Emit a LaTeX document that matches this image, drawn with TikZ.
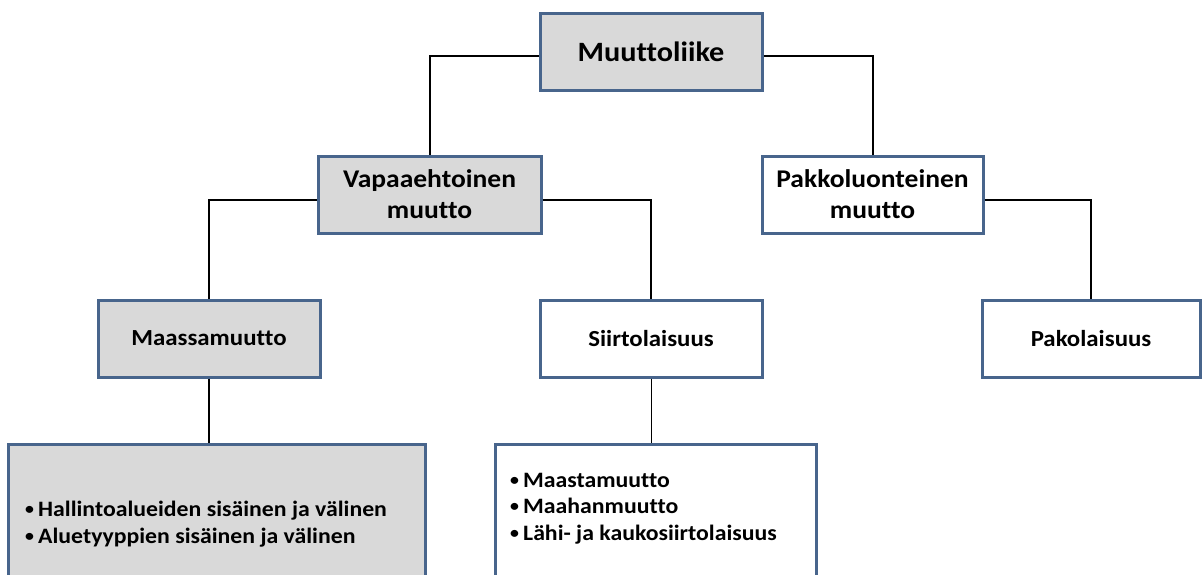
\documentclass[tikz,border=0pt]{standalone}
\usepackage{fontspec}
\setmainfont{Carlito}[Ligatures=NoCommon,FakeStretch=1.08]
\definecolor{boxedge}{RGB}{72,101,140}
\definecolor{boxfill}{RGB}{217,217,217}
\newcommand{\bul}{\makebox[13pt][l]{\raisebox{2pt}{\scalebox{0.75}{\textbullet}}}}
\begin{document}
\begin{tikzpicture}[x=1pt,y=-1pt,
  box/.style={draw=boxedge,line width=3pt,rectangle,minimum height=77pt,
    inner sep=0pt,align=center,font=\fontsize{23}{28}\selectfont\bfseries},
  grey/.style={box,fill=boxfill},
  white/.style={box,fill=white},
  lvltwo/.style={font=\fontsize{25.5}{31}\selectfont\bfseries},
  lvlone/.style={font=\fontsize{28}{31}\selectfont\bfseries},
  conn/.style={draw=black,line width=2pt},
  thin/.style={draw=black,line width=1pt},
  item/.style={anchor=base west,inner sep=0pt,
    font=\fontsize{22}{27}\selectfont\bfseries}]
\useasboundingbox (0,0) rectangle (1202,574);
\clip (0,0) rectangle (1202,574);
\node[grey,lvlone,minimum width=222pt] (top) at (651,51.5) {Muuttoliike};
\node[grey,lvltwo,minimum width=223pt] (vap) at (429.5,194.5) {Vapaaehtoinen\\muutto};
\node[white,lvltwo,minimum width=221pt] (pak) at (872.5,194.5) {Pakkoluonteinen\\muutto};
\node[grey,minimum width=222pt] (maas) at (209,338.5) {Maassamuutto};
\node[white,minimum width=222pt] (siir) at (651,338.5) {Siirtolaisuus};
\node[white,minimum width=218pt] (pakol) at (1091,338.5) {Pakolaisuus};
\node[grey,minimum width=417pt,minimum height=160pt,anchor=north] (bl) at (216.5,443) {};
\node[white,minimum width=321pt,minimum height=160pt,anchor=north] (bm) at (655.5,443) {};
\node[item] (bl1) at (25,516) {\bul Hallintoalueiden sisäinen ja välinen};
\node[item] (bl2) at (25,543) {\bul Aluetyyppien sisäinen ja välinen};
\node[item] (bm1) at (510,487) {\bul Maastamuutto};
\node[item] (bm2) at (510,513.5) {\bul Maahanmuutto};
\node[item] (bm3) at (510,540) {\bul Lähi- ja kaukosiirtolaisuus};
\draw[conn] ([yshift=-4pt]top.west) -| (vap.north);
\draw[conn] ([yshift=-4pt]top.east) -| (pak.north);
\draw[conn] ([yshift=-5pt]vap.west) -| (maas.north);
\draw[conn] ([yshift=-5pt]vap.east) -| (siir.north);
\draw[conn] ([yshift=-5pt]pak.east) -| (pakol.north);
\draw[conn] (maas.south) -- (maas.south |- bl.north);
\draw[thin] (siir.south) -- (siir.south |- bm.north);
\end{tikzpicture}
\end{document}
